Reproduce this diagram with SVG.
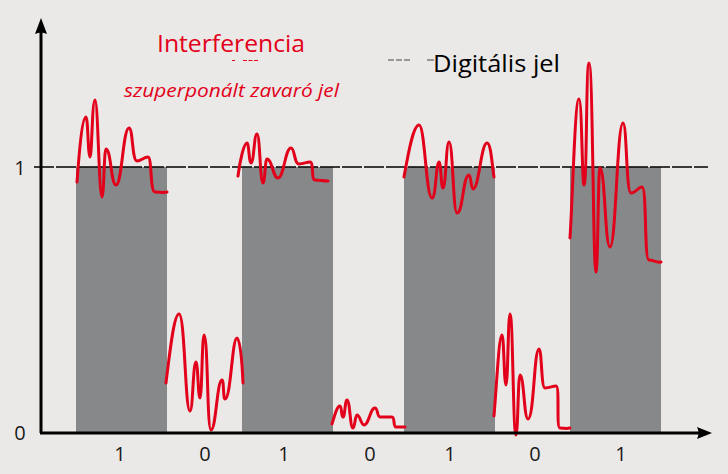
<svg xmlns="http://www.w3.org/2000/svg" width="728" height="474" viewBox="0 0 728 474">
<style>
.bar{fill:#878889}
.sig{fill:none;stroke:#e2001a;stroke-width:3;stroke-linecap:round;stroke-linejoin:round}
.ax{stroke:#000;stroke-width:3;fill:none}
.lbl{font-family:"Open Sans","Noto Sans",sans-serif;font-size:20px;fill:#1a1a1a;text-anchor:middle}
.title{font-family:"Open Sans","Noto Sans",sans-serif;font-size:23px}
</style>
<rect width="728" height="474" fill="#ebe9e7"/>
<g id="bars">
<rect id="bar1" class="bar" x="76" y="167" width="91" height="266"/>
<rect id="bar2" class="bar" x="242" y="167" width="91" height="266"/>
<rect id="bar3" class="bar" x="404" y="167" width="91" height="266"/>
<rect id="bar4" class="bar" x="570" y="167" width="91" height="266"/>
</g>
<g id="digital-level">
<line x1="34" y1="167" x2="708" y2="167" stroke="#000" stroke-width="1.5" stroke-dasharray="20 2"/>
</g>
<g id="interference">
<path class="sig" d="M77,182 C79,155 82,117 86,117 C88,117 88,157 90,157 C92,157 92,100 95,100 C98,100 99,197 102,197 C104,197 104,149 106,149 C111,149 111,185 116,185 C122,185 123,128 129,128 C133,128 132,161 137,161 C141,161 144,157 148,157 C152,157 150,192 155,192 C160,192 162,193 167,192"/>
<path class="sig" d="M238,176 C240,160 244,143 247,143 C249,143 249,163 251,163 C254,163 254,134 257,134 C260,134 260,183 263,183 C265,183 265,159 267,159 C272,159 273,178 278,178 C284,178 285,148 291,148 C295,148 294,164 299,164 C304,164 306,162 310,162 C314,162 311,180 315,180 C320,180 323,181 328,181"/>
<path class="sig" d="M404,177 C408,155 413,125 419,125 C425,125 426,198 432,198 C436,198 436,162 439,162 C441,162 441,188 443,188 C446,188 446,142 449,142 C453,142 453,213 457,213 C463,213 463,175 469,175 C471,175 471,189 473,189 C479,189 481,143 487,143 C491,143 492,165 494,177"/>
<path class="sig" d="M570,238 C573,190 575,99 579,99 C582,99 582,185 584,185 C587,185 586,63 589,63 C593,63 593,272 596,272 C598,272 598,168 600,168 C605,168 605,247 610,247 C616,247 617,123 623,123 C627,123 626,193 631,193 C636,193 638,187 642,187 C647,187 644,260 649,260 C654,260 656,263 661,262"/>
<path class="sig" d="M166,383 C170,350 174,314 179,314 C185,314 185,411 190,411 C193,411 193,362 196,362 C198,362 198,398 200,398 C202,398 202,335 204,335 C208,335 207,430 211,430 C216,430 217,380 222,380 C224,380 223,399 225,399 C231,399 232,338 237,338 C240,338 242,360 243,383"/>
<path class="sig" d="M332,424 C335,414 337,406 340,406 C342,406 341,417 343,417 C345,417 345,400 347,400 C350,400 350,428 353,428 C355,428 355,415 357,415 C360,415 361,425 364,425 C369,425 370,408 375,408 C378,408 377,417 380,417 L392,417 C395,417 393,427 396,427 L405,427"/>
<path class="sig" d="M494,416 C497,380 499,335 502,335 C504,335 504,385 506,385 C508,385 508,314 510,314 C513,314 513,435 516,435 C518,435 518,375 520,375 C524,375 524,419 528,419 C534,419 534,349 539,349 C542,349 541,388 545,388 C550,388 552,386 556,386 C560,386 556,428 560,428 C564,428 566,429 570,428"/>
</g>
<g id="axes">
<line class="ax" x1="41" y1="433" x2="41" y2="30"/>
<path d="M41,18 L47,34 Q41,31 35,34 Z" fill="#000"/>
<line class="ax" x1="40" y1="433" x2="700" y2="433"/>
<path d="M712,433 L697,427 Q700,433 697,439 Z" fill="#000"/>
</g>
<g id="axis-labels">
<text class="lbl" x="20" y="175" font-size="18">1</text>
<text class="lbl" x="20" y="440" font-size="18">0</text>
<text class="lbl" x="120" y="461">1</text>
<text class="lbl" x="205" y="461">0</text>
<text class="lbl" x="284" y="461">1</text>
<text class="lbl" x="370" y="461">0</text>
<text class="lbl" x="450" y="461">1</text>
<text class="lbl" x="535" y="461">0</text>
<text class="lbl" x="621" y="461">1</text>
</g>
<g id="legend-interference">
<line x1="232" y1="60.5" x2="263" y2="60.5" stroke="#e2001a" stroke-width="1.2" stroke-dasharray="3 8 4 1.5 4 1.5 4 5 3"/>
<text class="title" x="157" y="52" fill="#e2001a" textLength="148" lengthAdjust="spacingAndGlyphs">Interferencia</text>
<text x="124" y="97" fill="#e2001a" font-family="Open Sans,Noto Sans,sans-serif" font-style="italic" font-size="18" textLength="215" lengthAdjust="spacingAndGlyphs">szuperponált zavaró jel</text>
</g>
<g id="legend-digital">
<line x1="388" y1="60" x2="410" y2="60" stroke="#444" stroke-width="1" stroke-dasharray="6 2"/>
<line x1="427" y1="60" x2="434" y2="60" stroke="#444" stroke-width="1"/>
<text class="title" x="433" y="72" fill="#000" textLength="127" lengthAdjust="spacingAndGlyphs">Digitális jel</text>
</g>
</svg>
